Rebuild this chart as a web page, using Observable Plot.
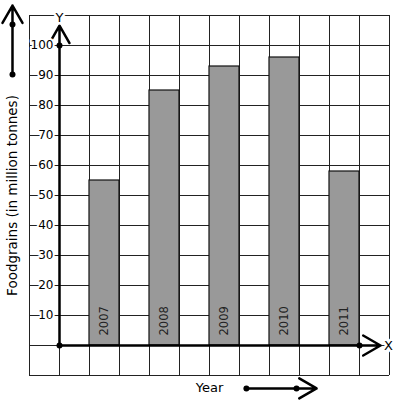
<!DOCTYPE html>
<html>
<head>
<meta charset="utf-8">
<script src="https://cdn.jsdelivr.net/npm/d3@7"></script>
<script src="https://cdn.jsdelivr.net/npm/@observablehq/plot@0.6"></script>
<style>
  html, body { margin: 0; padding: 0; background: #fff; }
  svg { display: block; overflow: visible; }
</style>
</head>
<body>
<div id="chart"></div>
<script>
// ---- data ----
const years = ["2007", "2008", "2009", "2010", "2011"];
const foodgrains = [55, 85, 93, 96, 58];
const yTickValues = [10, 20, 30, 40, 50, 60, 70, 80, 90, 100];
const gridX = d3.range(-1, 12);          // grid columns
const gridY = d3.range(-10, 111, 10);    // grid rows
const yTitle = "Foodgrains (in million tonnes)";
const xTitle = "Year";

// decorative arrows outside the grid (data units)
const decoArrows = [
  {x1: -1.567, y1: 90.3, x2: -1.567, y2: 113.3},
  {x1: 6.23, y1: -14.3, x2: 8.57, y2: -14.3}
];
const decoDots = [
  {x: -1.567, y: 90.3}, {x: -1.567, y: 107},
  {x: 6.23, y: -14.3}, {x: 7.9, y: -14.3}
];
const axisDots = [{x: 0, y: 0}, {x: 0, y: 100}, {x: 10, y: 0}];

const bars = years.map((year, i) => ({year, value: foodgrains[i], i}));

const chart = Plot.plot({
  width: 397,
  height: 401,
  marginLeft: 29,
  marginRight: 8,
  marginTop: 15,
  marginBottom: 26,
  x: {domain: [-1, 11], axis: null},
  y: {domain: [-10, 110], axis: null},
  style: {fontFamily: "DejaVu Sans, sans-serif", background: "#fff"},
  marks: [
    Plot.ruleX(gridX, {stroke: "#222", strokeWidth: 1}),
    Plot.ruleY(gridY, {stroke: "#222", strokeWidth: 1}),
    Plot.rect(bars, {
      x1: d => d.i * 2 + 1, x2: d => d.i * 2 + 2,
      y1: 0, y2: "value",
      fill: "#999", stroke: "#111", strokeWidth: 1.2
    }),
    Plot.text(bars, {
      x: d => d.i * 2 + 1.5, y: 0, text: "year",
      rotate: -90, textAnchor: "start", dy: -10,
      fontSize: 11.5, fill: "#222"
    }),
    Plot.arrow([{x1: 0, y1: 0, x2: 0, y2: 106.6}], {
      x1: "x1", y1: "y1", x2: "x2", y2: "y2",
      stroke: "#000", strokeWidth: 2.5, headLength: 12, headAngle: 60
    }),
    Plot.arrow([{x1: 0, y1: 0, x2: 10.7, y2: 0}], {
      x1: "x1", y1: "y1", x2: "x2", y2: "y2",
      stroke: "#000", strokeWidth: 2.5, headLength: 12, headAngle: 60
    }),
    Plot.text(yTickValues, {
      x: 0, y: d => d, text: d => String(d),
      textAnchor: "end", dx: -6, fontSize: 12, fill: "#000",
      stroke: "#fff", strokeWidth: 4
    }),
    Plot.dot(axisDots, {x: "x", y: "y", r: 3, fill: "#000"}),
    Plot.arrow(decoArrows, {
      x1: "x1", y1: "y1", x2: "x2", y2: "y2",
      stroke: "#000", strokeWidth: 2.5, headLength: 12, headAngle: 60
    }),
    Plot.dot(decoDots, {x: "x", y: "y", r: 3, fill: "#000"}),
    Plot.text(["Y"], {
      x: 0, frameAnchor: "top", text: d => d, dy: -3,
      fontSize: 13, fill: "#000", stroke: "#fff", strokeWidth: 5
    }),
    Plot.text(["X"], {
      y: 0, frameAnchor: "right", text: d => d, dx: -1, textAnchor: "middle",
      fontSize: 13, fill: "#000", stroke: "#fff", strokeWidth: 5
    }),
    Plot.text([yTitle], {
      frameAnchor: "left", text: d => d, rotate: -90, dx: -17,
      textAnchor: "middle", lineAnchor: "middle",
      fontSize: 13.5, fill: "#000"
    }),
    Plot.text([xTitle], {
      frameAnchor: "bottom", text: d => d, dy: 12, textAnchor: "middle",
      lineAnchor: "middle",
      fontSize: 13, fill: "#000"
    })
  ]
});
document.getElementById("chart").appendChild(chart);
</script>
</body>
</html>
